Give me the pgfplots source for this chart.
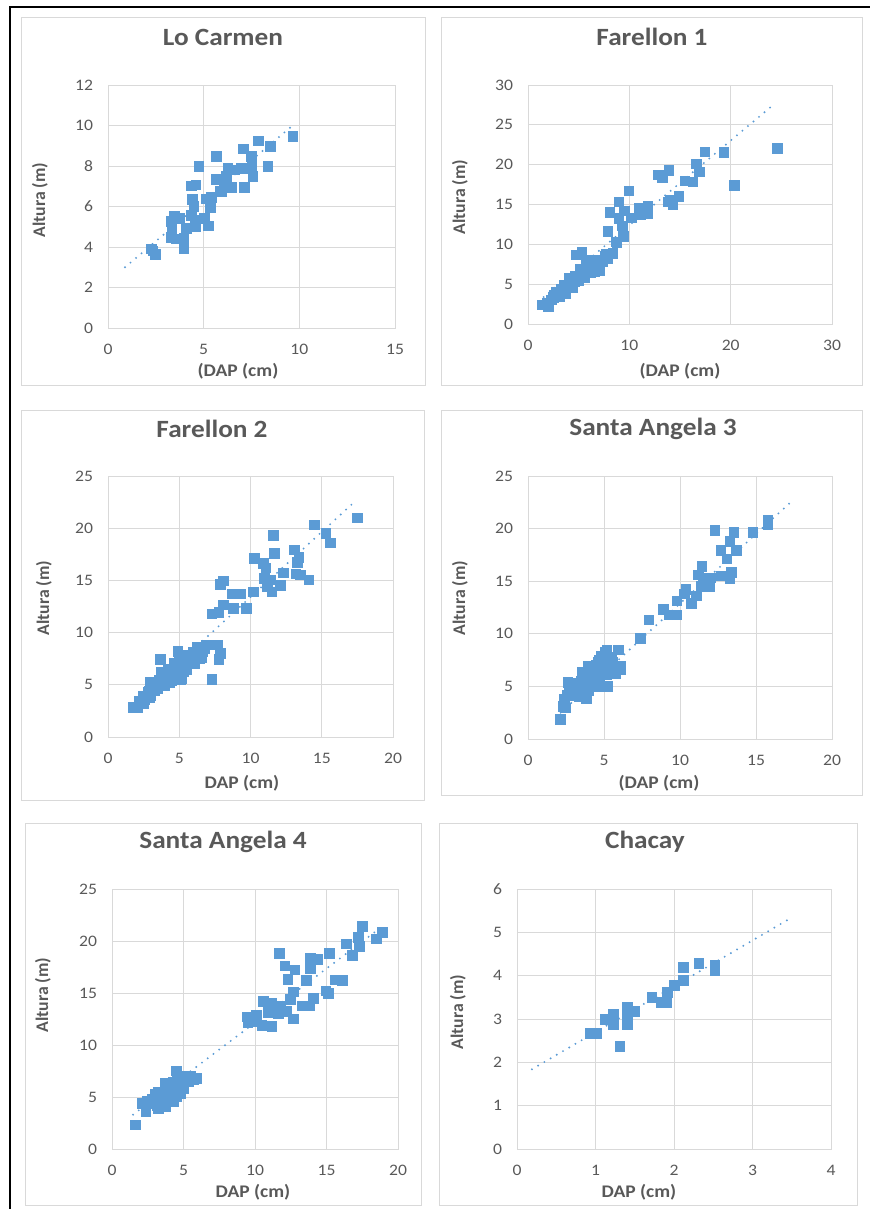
\documentclass[border=0pt]{standalone}
\usepackage{pgfplots}
\pgfplotsset{compat=1.18}
\usepackage{fontspec}
\setmainfont{Carlito}
\usepackage{graphicx}

\definecolor{ptblue}{HTML}{5B9BD5}
\definecolor{txtgray}{HTML}{595959}
\definecolor{gridgray}{HTML}{D9D9D9}

% slightly widened text, as in the original spreadsheet export
\newcommand\sx[1]{\scalebox{1.1}[1]{#1}}

\pgfplotsset{
  panel/.style={
    scale only axis,
    anchor=south west,
    axis line style={draw=gridgray, line width=0.75pt},
    grid=major,
    grid style={draw=gridgray, line width=0.75pt},
    major tick length=0pt,
    tick style={draw=none},
    xmin=0, ymin=0,
    ticklabel style={font=\fontsize{12}{12}\selectfont, text=txtgray, inner sep=0pt},
    xticklabel style={anchor=north, yshift=-12pt},
    yticklabel style={anchor=east, xshift=-11pt},
    xticklabel={\sx{\pgfmathprintnumber{\tick}}},
    yticklabel={\sx{\pgfmathprintnumber{\tick}}},
    /pgf/number format/assume math mode=true,
    clip=false,
  },
  pts/.style={only marks, mark=square*, mark size=3.6pt,
    mark options={fill=ptblue, draw=ptblue, line width=0pt}},
  trend/.style={no marks, ptblue, line width=1.6pt, line cap=round,
    dash pattern=on 0pt off 5.4pt},
}

\tikzset{
  ttl/.style={font=\bfseries\fontsize{18.6}{20}\selectfont, text=txtgray, inner sep=0pt},
  lbl/.style={font=\bfseries\fontsize{13.3}{14}\selectfont, text=txtgray, inner sep=0pt},
}

\begin{document}
\begin{tikzpicture}
\useasboundingbox (0,0) rectangle (652.5pt,-906.75pt);

% frame and panel borders (pixel grid: 1px = 0.75pt, y downwards)
\begin{scope}[x=0.75pt, y=-0.75pt]
  \draw[line width=2.2pt] (10,1212) -- (10,7) -- (872,7);
  \draw[gridgray, line width=0.75pt] (21,18) rectangle (425,385);
  \draw[gridgray, line width=0.75pt] (441,18) rectangle (862,385);
  \draw[gridgray, line width=0.75pt] (21,410) rectangle (424,800);
  \draw[gridgray, line width=0.75pt] (441,410) rectangle (862,795);
  \draw[gridgray, line width=0.75pt] (25,823) rectangle (421,1205);
  \draw[gridgray, line width=0.75pt] (439,823) rectangle (857,1205);
\end{scope}

% ---------------- Lo Carmen ----------------
\begin{axis}[panel, at={(108*0.75pt,-328*0.75pt)},
  width=287*0.75pt, height=243*0.75pt,
  xmax=15, ymax=12, xtick={0,5,10,15}, ytick={0,2,...,12}]
\addplot[pts] coordinates {
(2.35,3.80) (2.49,3.64) (2.27,3.90) (3.97,3.93) (3.31,5.25) (3.48,5.50)
(3.75,5.42) (3.34,4.92) (3.31,4.46) (3.57,4.40) (3.97,4.43) (4.09,4.92)
(4.36,5.55) (4.56,5.33) (4.56,5.00) (5.05,5.42) (5.26,5.04) (4.36,7.02)
(4.59,7.07) (4.76,7.97) (4.41,6.35) (4.49,5.99) (5.14,6.37) (5.40,6.45)
(5.37,5.94) (5.66,8.47) (5.66,7.34) (5.92,6.73) (6.10,7.06) (6.18,7.47)
(6.27,7.88) (6.45,6.93) (6.97,7.88) (7.09,8.84) (7.14,6.95) (7.49,8.46)
(7.53,7.97) (7.58,7.47) (7.87,9.23) (8.36,7.97) (8.48,8.95) (9.67,9.45)
(6.63,7.81) (7.33,7.89) (6.06,6.99) (5.85,6.74)
};
\addplot[trend] coordinates {(0.89,3.00) (9.60,9.96)};
\end{axis}

% ---------------- Farellon 1 ----------------
\begin{axis}[panel, at={(528*0.75pt,-324*0.75pt)},
  width=304*0.75pt, height=239*0.75pt,
  xmax=30, ymax=30, xtick={0,10,20,30}, ytick={0,5,...,30}]
\addplot[pts] coordinates {
(1.4,2.4) (2.0,2.2) (1.9,2.6) (2.3,3.0) (2.5,3.3) (2.6,3.6) (2.8,3.7)
(3.0,3.9) (3.1,3.4) (3.3,3.9) (3.3,4.3) (3.6,4.9) (3.7,4.3) (3.7,3.8)
(3.95,4.7) (4.1,5.2) (4.1,5.75) (4.3,5.1) (4.4,4.6) (4.6,5.3) (4.7,6.0)
(4.8,5.75) (4.94,6.0) (5.0,5.4) (5.3,6.4) (5.44,6.2) (5.6,5.8) (5.77,6.8)
(5.77,7.6) (6.0,7.0) (6.1,7.6) (6.2,6.5) (6.4,7.2) (6.6,6.6) (6.6,7.8)
(6.9,7.2) (6.9,8.0) (7.1,6.7) (7.4,7.8) (7.6,8.5) (7.7,8.7) (7.9,8.25)
(8.34,8.8) (8.4,8.9) (2.8,4.0) (5.2,6.9) (6.3,8.0) (7.0,7.5)
(4.74,8.67) (5.34,8.96) (8.7,10.3) (8.8,10.2) (9.4,10.96) (7.9,11.6)
(9.3,12.3) (8.96,13.25) (10.2,13.3) (11.1,13.7) (11.8,13.8) (11.86,14.8)
(11.0,14.5) (9.55,14.2) (8.1,14.0) (8.96,15.3) (9.95,16.7) (13.8,15.3)
(14.0,15.5) (14.3,15.0) (14.9,16.0) (15.5,17.96) (16.3,17.8) (20.4,17.4)
(12.9,18.7) (13.25,18.4) (13.9,19.3) (16.9,19.1) (16.64,20.1) (17.46,21.6)
(19.34,21.5) (24.6,22.0)
};
\addplot[trend] coordinates {(1.0,2.8) (24.2,27.5)};
\end{axis}

% ---------------- Farellon 2 ----------------
\begin{axis}[panel, at={(108*0.75pt,-737*0.75pt)},
  width=285*0.75pt, height=261*0.75pt,
  xmax=20, ymax=25, xtick={0,5,...,20}, ytick={0,5,...,25}]
\addplot[pts] coordinates {
(17.5,20.96) (14.5,20.3) (15.3,19.5) (15.6,18.6) (11.6,19.3) (11.7,17.6)
(13.1,17.9) (13.4,17.2) (13.3,16.7) (10.3,17.1) (10.9,16.6) (11.1,16.2)
(12.3,15.7) (13.2,15.6) (13.5,15.5) (14.1,15.05) (11.0,15.2) (11.45,15.05)
(11.2,14.4) (12.1,14.5) (11.5,13.9) (8.1,14.95) (7.9,14.6) (8.7,13.7)
(9.3,13.7) (10.2,13.9) (8.1,12.65) (8.8,12.3) (9.7,12.3) (7.8,11.9)
(7.3,11.8) (7.7,8.8) (7.9,8.0) (7.8,7.4) (7.3,5.5) (6.9,8.8) (6.66,8.2)
(6.26,8.6) (5.96,8.1) (6.07,7.0) (4.9,8.2) (3.7,7.4) (5.4,7.8) (5.1,6.8)
(5.1,5.5) (4.7,6.2) (4.2,5.5) (3.74,6.2) (3.5,4.9) (3.0,5.2) (2.8,4.25)
(2.45,3.9) (2.1,2.8) (1.75,2.8) (2.34,3.3) (3.27,4.4) (3.97,4.9)
(4.44,5.85) (4.67,7.1) (5.6,7.4) (6.3,7.8) (4.2,6.5) (3.6,5.4) (2.9,3.8)
(2.57,3.6) (5.0,7.6) (5.3,6.3) (4.0,5.8) (3.3,4.8) (6.6,7.6) (5.8,7.0)
(2.2,3.4) (2.6,3.9) (2.9,4.4) (3.2,4.6) (3.4,5.2) (3.6,5.0) (3.8,5.6)
(4.0,6.0) (4.2,5.8) (4.4,6.3) (4.6,6.0) (4.8,6.6) (5.0,6.2) (5.2,7.0)
(5.4,6.8) (5.6,7.2) (5.8,7.6) (6.0,7.3) (6.2,8.0) (6.4,7.5) (6.5,8.3)
(6.8,8.5) (3.0,4.0) (2.5,3.2) (3.5,4.6) (4.3,5.2) (4.8,5.6) (5.2,5.6)
(5.5,6.4) (3.9,5.2) (4.5,5.4) (5.0,5.9)
};
\addplot[trend] coordinates {(1.8,3.15) (17.2,22.4)};
\end{axis}

% ---------------- Santa Angela 3 ----------------
\begin{axis}[panel, at={(528*0.75pt,-739*0.75pt)},
  width=304*0.75pt, height=263*0.75pt,
  xmax=20, ymax=25, xtick={0,5,...,20}, ytick={0,5,...,25}]
\addplot[pts] coordinates {
(15.8,20.8) (15.8,20.4) (14.8,19.65) (13.55,19.65) (12.3,19.8) (13.3,18.8)
(12.7,17.9) (13.7,17.9) (13.1,17.1) (11.45,16.4) (13.4,15.8) (13.3,15.2)
(12.7,15.5) (11.2,15.6) (11.7,15.3) (11.95,14.5) (11.4,14.5) (10.4,14.2)
(10.3,13.8) (11.07,13.6) (10.75,12.9) (9.8,13.1) (8.9,12.3) (9.3,11.8)
(9.76,11.8) (7.96,11.3) (7.4,9.55) (5.96,8.45) (5.2,8.4) (6.1,6.55)
(5.75,6.5) (5.5,7.6) (5.0,7.9) (4.6,7.25) (4.4,6.9) (5.15,6.1) (5.26,5.0)
(4.7,5.7) (4.3,6.1) (3.95,6.9) (3.84,6.0) (3.5,5.5) (3.84,3.8) (3.3,4.7)
(3.07,4.1) (2.85,5.2) (2.74,4.7) (2.4,3.8) (2.3,3.1) (2.45,2.95) (2.15,1.87)
(3.6,4.4) (4.17,5.0) (4.5,6.3) (4.93,6.9) (4.17,5.5) (3.18,5.2) (2.63,5.35)
(5.6,6.9) (12.0,15.3) (11.5,15.0)
(2.6,4.2) (2.9,4.6) (3.1,5.0) (3.3,5.3) (3.5,4.3) (3.7,5.0) (3.9,5.6)
(4.1,6.2) (4.3,6.6) (4.5,7.0) (4.7,7.5) (4.9,6.6) (5.1,7.2) (5.3,7.8)
(5.1,8.2) (4.6,5.3) (4.0,4.6) (4.4,5.6) (5.6,7.3) (6.1,6.9) (5.8,6.2)
(3.4,4.0) (4.8,5.0) (4.2,6.8) (3.6,6.3) (4.8,7.9)
};
\addplot[trend] coordinates {(2.15,2.5) (17.2,22.4)};
\end{axis}

% ---------------- Santa Angela 4 ----------------
\begin{axis}[panel, at={(112*0.75pt,-1149*0.75pt)},
  width=286*0.75pt, height=260*0.75pt,
  xmax=20, ymax=25, xtick={0,5,...,20}, ytick={0,5,...,25}]
\addplot[pts] coordinates {
(17.5,21.4) (18.9,20.8) (18.5,20.2) (17.25,20.35) (17.3,19.45) (16.4,19.7)
(16.8,18.6) (15.2,18.8) (13.9,18.3) (14.4,18.2) (13.9,17.3) (12.8,17.2)
(12.1,17.6) (11.7,18.8) (12.3,16.3) (13.6,16.2) (15.6,16.25) (16.1,16.2)
(14.96,15.2) (15.15,14.97) (12.7,15.1) (12.5,14.4) (14.1,14.5) (13.3,13.75)
(13.8,13.75) (10.6,14.2) (11.2,14.0) (11.8,13.7) (12.2,13.2) (12.7,12.5)
(11.65,13.0) (10.96,13.1) (10.1,12.9) (9.44,12.7) (9.5,12.1) (9.8,12.2)
(10.5,11.9) (11.2,11.8) (4.5,7.5) (4.9,7.0) (5.7,6.7) (5.36,6.5) (4.66,6.2)
(4.8,5.35) (4.2,6.0) (3.73,6.3) (3.26,5.5) (3.5,4.9) (4.3,4.55) (3.73,4.07)
(3.26,3.9) (2.8,4.4) (2.33,4.4) (2.1,4.4) (2.38,3.6) (1.63,2.3) (3.96,5.0)
(3.03,4.7) (5.0,6.3) (4.43,5.7)
(2.5,4.6) (2.8,4.8) (3.0,5.3) (3.2,4.2) (3.5,5.4) (3.7,5.8) (3.9,6.0)
(4.1,5.6) (4.3,6.4) (4.6,6.6) (4.8,6.0) (5.2,6.8) (5.5,7.0) (5.9,6.8)
(3.4,4.5) (4.0,4.8) (4.5,5.0) (5.0,5.8)
};
\addplot[trend] coordinates {(1.47,3.3) (18.9,21.4)};
\end{axis}

% ---------------- Chacay ----------------
\begin{axis}[panel, at={(517*0.75pt,-1149*0.75pt)},
  width=314*0.75pt, height=260*0.75pt,
  xmax=4, ymax=6, xtick={0,1,...,4}, ytick={0,1,...,6}]
\addplot[pts] coordinates {
(0.93,2.66) (1.02,2.66) (1.13,2.99) (1.23,3.10) (1.23,2.87) (1.31,2.36)
(1.41,3.26) (1.41,2.87) (1.41,3.03) (1.50,3.17) (1.72,3.49) (1.84,3.38)
(1.91,3.38) (1.92,3.61) (2.01,3.78) (2.12,4.19) (2.12,3.89) (2.32,4.28)
(2.52,4.25) (2.52,4.11)
};
\addplot[trend] coordinates {(0.19,1.84) (3.46,5.30)};
\end{axis}

% titles and axis titles
\begin{scope}[x=0.75pt, y=-0.75pt]
  \node[ttl] at (223,37) {\sx{Lo Carmen}};
  \node[ttl] at (652,37) {\sx{Farellon 1}};
  \node[ttl] at (212,429) {\sx{Farellon 2}};
  \node[ttl] at (653,429) {\sx{Santa Angela 3}};
  \node[ttl] at (223,842) {\sx{Santa Angela 4}};
  \node[ttl] at (645,842) {\sx{Chacay}};

  \node[lbl] at (238,371) {\sx{(DAP (cm)}};
  \node[lbl] at (680,371) {\sx{(DAP (cm)}};
  \node[lbl] at (242,783) {\sx{DAP (cm)}};
  \node[lbl] at (659,783) {\sx{(DAP (cm)}};
  \node[lbl] at (253,1192) {\sx{DAP (cm)}};
  \node[lbl] at (639,1192) {\sx{DAP (cm)}};

  \node[lbl, rotate=90] at (40,200) {Altura (m)};
  \node[lbl, rotate=90] at (460,197) {Altura (m)};
  \node[lbl, rotate=90] at (44,598) {Altura (m)};
  \node[lbl, rotate=90] at (460,598) {Altura (m)};
  \node[lbl, rotate=90] at (43,995) {Altura (m)};
  \node[lbl, rotate=90] at (458,1012) {Altura (m)};
\end{scope}
\end{tikzpicture}
\end{document}
